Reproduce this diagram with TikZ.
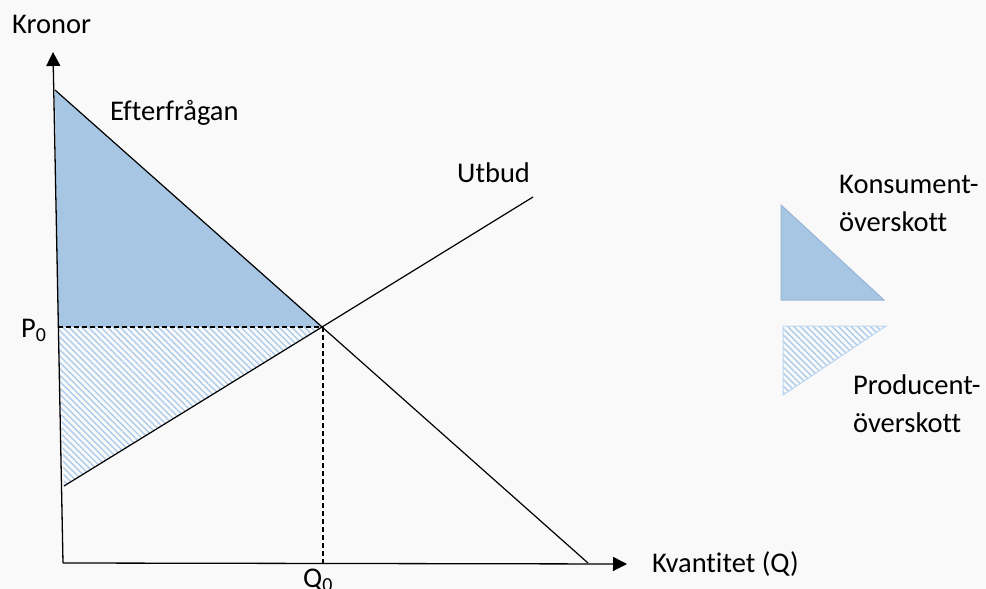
\documentclass[tikz,border=0pt]{standalone}
\usepackage{fontspec}
\setmainfont{Carlito}[Ligatures=NoCommon]
\usetikzlibrary{arrows.meta,patterns.meta}
\definecolor{bgcol}{HTML}{F9F9F9}
\definecolor{ksfill}{HTML}{A7C6E4}
\definecolor{ksedge}{HTML}{97B5D6}
\definecolor{pshatch}{HTML}{AECCEB}
\begin{document}
\begin{tikzpicture}[x=1pt, y=-1pt,
  font=\fontsize{28.5}{38}\selectfont,
  axis/.style={line width=1.3pt, -{Triangle[length=14pt,width=14pt]}},
  curve/.style={line width=1.2pt},
  guide/.style={line width=1.1pt, dash pattern=on 5pt off 3pt},
  txt/.style={inner sep=0pt, anchor=base west, align=left},
  ksurplus/.style={fill=ksfill},
  psurplus/.style={pattern={Lines[angle=-45,distance=4.5pt,line width=1.4pt]},
                   pattern color=pshatch}
]
  \fill[bgcol] (0,0) rectangle (986,589);
  \useasboundingbox (0,0) rectangle (986,589);
  % Punkter
  \coordinate (origo) at (63,563);
  \coordinate (ytop)  at (53,52);
  \coordinate (xend)  at (627,564);
  \coordinate (dstart) at (55,90);
  \coordinate (dend)   at (588,563);
  \coordinate (sstart) at (64,486);
  \coordinate (send)   at (533,197);
  \coordinate (jvikt)  at (323,327);
  \coordinate (pnoll)  at (58,327);
  \coordinate (qnoll)  at (323,563);
  % Överskott
  \fill[ksurplus] (dstart) -- (jvikt) -- (pnoll) -- cycle;
  \fill[psurplus] (pnoll) -- (jvikt) -- (sstart) -- cycle;
  % Axlar
  \draw[axis] (origo) -- (ytop);
  \draw[axis] (origo) -- (xend);
  % Kurvor
  \draw[curve] (dstart) -- (dend);
  \draw[curve] (sstart) -- (send);
  \draw[guide] (pnoll) -- (jvikt);
  \draw[guide] (jvikt) -- (qnoll);
  % Texter
  \node[txt] (kronor)  at (12,33)   {Kronor};
  \node[txt] (efterfr) at (110,120) {Efterfrågan};
  \node[txt] (utbud)   at (457,182) {Utbud};
  \node[txt] (plabel)  at (21,337)  {P\textsubscript{0}};
  \node[txt] (qlabel)  at (303,587) {Q\textsubscript{0}};
  \node[txt] (kvant)   at (652,572) {Kvantitet (Q)};
  % Förklaring
  \fill[ksurplus, draw=ksedge, line width=1pt] (781,205) -- (781,300) -- (884,300) -- cycle;
  \filldraw[psurplus, draw=pshatch!80, line width=1pt] (783,326) -- (886,326) -- (783,395) -- cycle;
  \node[txt] (konsument) at (839,231) {Konsument-\\överskott};
  \node[txt] (producent) at (853,432) {Producent-\\överskott};
\end{tikzpicture}
\end{document}
